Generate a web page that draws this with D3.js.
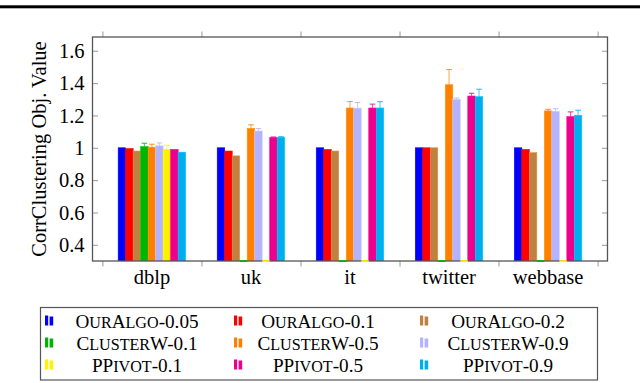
<!DOCTYPE html>
<html>
<head>
<meta charset="utf-8">
<script src="https://cdn.jsdelivr.net/npm/d3@7"></script>
<style>
    html, body { margin: 0; padding: 0; background: #fff; }
    svg { display: block; font-family: "Liberation Serif", "DejaVu Serif", serif; }
</style>
</head>
<body>
<svg id="svg" width="640" height="383"></svg>
<script>
// Data
const categories = ['dblp', 'uk', 'it', 'twitter', 'webbase']
const seriesNames = [
    'OurAlgo-0.05', 'OurAlgo-0.1', 'OurAlgo-0.2',
    'ClusterW-0.1', 'ClusterW-0.5', 'ClusterW-0.9',
    'PPivot-0.1', 'PPivot-0.5', 'PPivot-0.9',
]
const seriesColors = [
    '#0000ff', '#ff0000', '#bf8040',
    '#00b400', '#ff8000', '#b3b3ff',
    '#fff200', '#ec008c', '#00aeef',
]
// one list per series, same order as categories (0 = no run, drawn as a stub)
const ourAlgo005 = [1.0, 1.0, 1.0, 1.0, 1.0]
const ourAlgo01 = [0.995, 0.98, 0.99, 1.0, 0.99]
const ourAlgo02 = [0.98, 0.95, 0.98, 1.0, 0.97]
const clusterW01 = [1.007, 0, 0, 0, 0]
const clusterW05 = [1.004, 1.12, 1.246, 1.39, 1.228]
const clusterW09 = [1.012, 1.104, 1.245, 1.30, 1.226]
const pPivot01 = [0.99, 0, 0, 0, 0]
const pPivot05 = [0.99, 1.063, 1.246, 1.32, 1.193]
const pPivot09 = [0.973, 1.065, 1.246, 1.316, 1.201]
// error bar half widths
const errOurAlgo = [0, 0, 0, 0, 0]
const errClusterW01 = [0.021, 0, 0, 0, 0]
const errClusterW05 = [0.018, 0.022, 0.04, 0.094, 0.01]
const errClusterW09 = [0.018, 0.015, 0.035, 0.008, 0.016]
const errPPivot01 = [0.026, 0, 0, 0, 0]
const errPPivot05 = [0, 0.004, 0.024, 0.017, 0.029]
const errPPivot09 = [0, 0.004, 0.039, 0.046, 0.031]
const yTicks = [0.4, 0.6, 0.8, 1, 1.2, 1.4, 1.6]
const yLabel = 'CorrClustering Obj. Value'

const seriesValues = [ourAlgo005, ourAlgo01, ourAlgo02, clusterW01, clusterW05, clusterW09, pPivot01, pPivot05, pPivot09]
const seriesErrors = [errOurAlgo, errOurAlgo, errOurAlgo, errClusterW01, errClusterW05, errClusterW09, errPPivot01, errPPivot05, errPPivot09]

const drawChart = () => {
    // Foundations
    const svg = d3.select('#svg')
    const plot = { left: 92.5, right: 607.5, top: 37, bottom: 261 }
    const barWidth = 7.5

    // Top rule of the page
    svg.append('rect')
        .attr('x', 0).attr('y', 5.3)
        .attr('width', 640).attr('height', 3)
        .attr('fill', '#000')

    // Scales
    const xScale = d3.scaleBand()
        .domain(categories)
        .range([plot.left, plot.right])
        .paddingInner(0)
        .paddingOuter(0.1)

    const xInner = d3.scaleBand()
        .domain(seriesNames)
        .range([-barWidth * seriesNames.length / 2, barWidth * seriesNames.length / 2])

    const yScale = d3.scaleLinear()
        .domain([0.3, 1.685])
        .range([plot.bottom, plot.top])

    const rows = []
    seriesNames.forEach((name, i) => {
        categories.forEach((cat, j) => {
            rows.push({ name, cat, value: seriesValues[i][j], err: seriesErrors[i][j], color: seriesColors[i] })
        })
    })

    // Bars, clipped to the plot area
    svg.append('clipPath').attr('id', 'clip')
        .append('rect')
        .attr('x', plot.left).attr('y', plot.top)
        .attr('width', plot.right - plot.left).attr('height', plot.bottom - plot.top)

    const bars = svg.append('g').attr('clip-path', 'url(#clip)')
    const xBar = (d) => xScale(d.cat) + xScale.bandwidth() / 2 + xInner(d.name)

    bars.selectAll('.bar')
        .data(rows.filter((d) => d.value > 0))
        .join('rect')
        .attr('class', 'bar')
        .attr('x', (d) => xBar(d))
        .attr('width', xInner.bandwidth())
        .attr('y', (d) => yScale(d.value))
        .attr('height', (d) => yScale(0.3) - yScale(d.value) + 2)
        .attr('fill', (d) => d.color)
        .attr('stroke', (d) => d3.color(d.color).brighter(0.4))
        .attr('stroke-width', 0.6)

    // Error bars
    const errRows = rows.filter((d) => d.err > 0)
    const errs = svg.append('g')
    errs.selectAll('.err')
        .data(errRows)
        .join('line')
        .attr('x1', (d) => xBar(d) + xInner.bandwidth() / 2)
        .attr('x2', (d) => xBar(d) + xInner.bandwidth() / 2)
        .attr('y1', (d) => yScale(d.value))
        .attr('y2', (d) => yScale(d.value + d.err))
        .attr('stroke', (d) => d.color)
        .attr('stroke-opacity', 0.65)
        .attr('stroke-width', 1.1)
    errs.selectAll('.cap')
        .data(errRows)
        .join('line')
        .attr('x1', (d) => xBar(d) + xInner.bandwidth() / 2 - 2.8)
        .attr('x2', (d) => xBar(d) + xInner.bandwidth() / 2 + 2.8)
        .attr('y1', (d) => yScale(d.value + d.err))
        .attr('y2', (d) => yScale(d.value + d.err))
        .attr('stroke', (d) => d.color)
        .attr('stroke-opacity', 0.8)
        .attr('stroke-width', 1.1)

    // Ticks: y inward on both sides, x outward on both sides at group borders
    const tickColor = '#9a9a9a'
    const yAxisL = d3.axisRight(yScale).tickValues(yTicks).tickSize(5.5).tickFormat('')
    const yAxisR = d3.axisLeft(yScale).tickValues(yTicks).tickSize(5.5).tickFormat('')
    const borders = categories.map((c) => xScale(c)).concat([xScale(categories[categories.length - 1]) + xScale.bandwidth()])
    const xBorder = d3.scaleIdentity().domain([plot.left, plot.right])
    const xAxisB = d3.axisBottom(xBorder).tickValues(borders).tickSize(5.5).tickFormat('')
    const xAxisT = d3.axisTop(xBorder).tickValues(borders).tickSize(5.5).tickFormat('')

    const tickGroups = [
        svg.append('g').attr('transform', `translate(${plot.left},0)`).call(yAxisL),
        svg.append('g').attr('transform', `translate(${plot.right},0)`).call(yAxisR),
        svg.append('g').attr('transform', `translate(0,${plot.bottom})`).call(xAxisB),
        svg.append('g').attr('transform', `translate(0,${plot.top})`).call(xAxisT),
    ]
    tickGroups.forEach((g) => {
        g.select('.domain').remove()
        g.selectAll('line').attr('stroke', tickColor).attr('stroke-width', 1)
    })

    // Frame
    svg.append('rect')
        .attr('x', plot.left).attr('y', plot.top)
        .attr('width', plot.right - plot.left).attr('height', plot.bottom - plot.top)
        .attr('fill', 'none')
        .attr('stroke', '#555')
        .attr('stroke-width', 1.3)

    // Stubs for runs with no value, sitting on the bottom line
    svg.append('g').selectAll('.stub')
        .data(rows.filter((d) => d.value <= 0))
        .join('rect')
        .attr('x', (d) => xBar(d))
        .attr('width', xInner.bandwidth())
        .attr('y', plot.bottom - 0.8)
        .attr('height', 1.8)
        .attr('fill', (d) => d.color)

    // Tick labels
    svg.append('g')
        .attr('transform', `translate(${plot.left - 5},0)`)
        .call(d3.axisLeft(yScale).tickValues(yTicks).tickSize(0).tickFormat(d3.format('~g')))
        .call((g) => g.select('.domain').remove())
        .selectAll('text')
        .attr('font-family', '"Liberation Serif", serif')
        .attr('font-size', 20.5)
        .attr('fill', '#000')
        .attr('dy', '0.33em')

    svg.append('g')
        .attr('transform', `translate(0,${plot.bottom})`)
        .call(d3.axisBottom(xScale).tickSize(0).tickPadding(0))
        .call((g) => g.select('.domain').remove())
        .selectAll('text')
        .attr('font-family', '"Liberation Serif", serif')
        .attr('font-size', 20.5)
        .attr('fill', '#000')
        .attr('dy', null)
        .attr('y', 23)

    svg.append('text')
        .attr('transform', `translate(46,${(plot.top + plot.bottom) / 2}) rotate(-90)`)
        .attr('text-anchor', 'middle')
        .attr('font-size', 20.5)
        .attr('fill', '#000')
        .text(yLabel)

    // Legend
    const legend = { left: 40.5, top: 307.5, right: 597.5, bottom: 380 }
    svg.append('rect')
        .attr('x', legend.left).attr('y', legend.top)
        .attr('width', legend.right - legend.left).attr('height', legend.bottom - legend.top)
        .attr('fill', '#fff')
        .attr('stroke', '#555')
        .attr('stroke-width', 1.2)

    const colSwatch = [45, 234, 420]
    const colText = [137, 318, 508]
    const rowY = [320.5, 342.5, 364.5]

    const items = svg.append('g').selectAll('g')
        .data(seriesNames)
        .join('g')
        .attr('transform', (d, i) => `translate(0,${rowY[Math.floor(i / 3)]})`)

    items.append('rect')
        .attr('x', (d, i) => colSwatch[i % 3])
        .attr('y', -5)
        .attr('width', 3.2).attr('height', 10)
        .attr('fill', (d, i) => seriesColors[i])
    items.append('rect')
        .attr('x', (d, i) => colSwatch[i % 3] + 4.6)
        .attr('y', -4)
        .attr('width', 3.6).attr('height', 9)
        .attr('fill', (d, i) => seriesColors[i])

    // Small caps: lower case letters set as smaller capitals
    const legendText = items.append('text')
        .attr('x', (d, i) => colText[i % 3])
        .attr('y', 7)
        .attr('text-anchor', 'middle')
        .attr('font-size', 19.2)
        .attr('fill', '#000')

    legendText.each(function(d) {
        const runs = d.match(/[a-z]+|[^a-z]+/g)
        const text = d3.select(this)
        runs.forEach((r) => {
            const small = /[a-z]/.test(r)
            text.append('tspan')
                .attr('font-size', small ? '0.84em' : null)
                .text(small ? r.toUpperCase() : r)
        })
    })
}

drawChart()
</script>
</body>
</html>
